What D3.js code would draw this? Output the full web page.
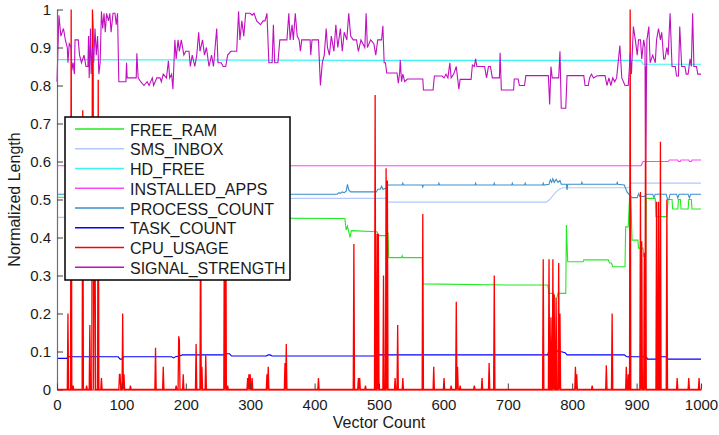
<!DOCTYPE html>
<html lang="en">
<head>
  <title>Normalized Length</title>
  <script src="https://d3js.org/d3.v7.min.js"></script>
  <style>
    body { margin: 0; background: #fff; }
    text { font-family: "Liberation Sans", Arial, Helvetica, sans-serif; fill: #1a1a1a; }
  </style>
</head>
<body>
  <div id="my_dataviz"></div>
  <script>
    // values, [vector count, normalized length]
    const freeRam = [[0,0.506],[150,0.506],[152,0.452],[447,0.450],[449,0.42],[451,0.43],[453,0.415],[455,0.40],[457,0.418],[497,0.415],[499,0.405],[512,0.405],[514,0.41],[515,0.347],[535,0.347],[536,0.352],[537,0.347],[567,0.347],[568,0.278],[700,0.275],[762,0.275],[764,0.253],[771,0.253],[773,0.24],[776,0.24],[778,0.253],[790,0.253],[791,0.433],[793,0.336],[817,0.336],[818,0.341],[856,0.341],[858,0.333],[861,0.333],[863,0.323],[882,0.323],[883,0.428],[887,0.428],[889,0.503],[891,0.503],[893,0.393],[902,0.393],[903,0.372],[910,0.372],[911,0.35],[914,0.35],[915,0.503],[929,0.503],[930,0.455],[947,0.455],[949,0.5],[955,0.5],[956,0.475],[964,0.475],[965,0.5],[968,0.5],[969,0.475],[980,0.475],[981,0.5],[985,0.5],[986,0.475],[1000,0.475]];

    const smsInbox = [[0,0.453],[150,0.453],[152,0.503],[512,0.503],[513,0.493],[760,0.493],[765,0.5],[770,0.51],[775,0.52],[780,0.527],[785,0.531],[889,0.531],[891,0.543],[1000,0.543]];

    const hdFree = [[0,0.868],[500,0.866],[907,0.866],[910,0.856],[1000,0.856]];

    const installedApps = [[0,0.589],[907,0.589],[910,0.6],[949,0.6],[951,0.604],[964,0.604],[965,0.6],[968,0.6],[969,0.604],[981,0.604],[982,0.6],[985,0.6],[986,0.604],[1000,0.604]];

    const processCount = [[0,0.514],[435,0.514],[438,0.518],[440,0.516],[443,0.52],[446,0.518],[449,0.522],[451,0.54],[453,0.525],[456,0.52],[496,0.52],[498,0.527],[502,0.527],[504,0.535],[506,0.527],[511,0.53],[513,0.538],[536,0.538],[537,0.543],[538,0.538],[567,0.538],[568,0.533],[569,0.538],[592,0.538],[593,0.543],[594,0.538],[649,0.538],[650,0.543],[651,0.538],[678,0.538],[679,0.543],[680,0.538],[706,0.538],[707,0.543],[708,0.538],[726,0.538],[727,0.543],[728,0.538],[754,0.538],[755,0.543],[756,0.538],[764,0.54],[766,0.552],[768,0.545],[770,0.555],[772,0.545],[775,0.553],[778,0.545],[781,0.55],[783,0.54],[791,0.54],[792,0.525],[793,0.54],[814,0.54],[815,0.545],[816,0.54],[869,0.54],[870,0.545],[871,0.54],[881,0.538],[885,0.52],[890,0.51],[893,0.505],[901,0.505],[903,0.515],[905,0.508],[912,0.508],[916,0.514],[925,0.514],[927,0.505],[929,0.514],[946,0.514],[948,0.5],[950,0.5],[952,0.514],[962,0.514],[964,0.504],[966,0.514],[980,0.514],[982,0.504],[984,0.514],[1000,0.514]];

    const taskCount = [[0,0.082],[15,0.082],[17,0.086],[95,0.086],[98,0.08],[101,0.08],[104,0.086],[178,0.086],[181,0.083],[184,0.086],[190,0.088],[195,0.091],[260,0.091],[263,0.094],[268,0.094],[271,0.088],[325,0.088],[328,0.091],[331,0.091],[334,0.088],[496,0.088],[498,0.091],[510,0.091],[512,0.095],[514,0.091],[762,0.091],[764,0.104],[768,0.104],[770,0.099],[773,0.104],[776,0.1],[780,0.104],[782,0.1],[789,0.097],[792,0.091],[881,0.091],[884,0.087],[888,0.086],[890,0.089],[892,0.086],[915,0.086],[917,0.08],[931,0.08],[933,0.086],[946,0.086],[948,0.08],[1000,0.08]];

    // CPU_USAGE is zero except for these spikes: [vector count, height]
    const cpuSpikes = [[17,0.20],[22,1.0],[25,0.01],[40,0.735],[46,0.01],[51,0.17],[55,1.0],[56,0.95],[58,0.5],[59,0.45],[64,0.815],[69,0.03],[97,0.04],[98,0.04],[102,0.2],[104,0.04],[114,0.01],[153,0.11],[165,0.06],[185,0.01],[189,0.14],[190,0.13],[196,0.04],[216,0.12],[223,0.5],[225,0.06],[231,0.09],[260,0.55],[262,0.6],[265,0.01],[296,0.03],[298,0.04],[300,0.04],[303,0.03],[326,0.04],[328,0.06],[354,0.07],[356,0.12],[406,0.03],[461,0.383],[468,0.03],[470,0.03],[479,0.01],[494,0.775],[497,0.41],[499,0.41],[507,0.3],[511,0.582],[513,0.55],[525,0.03],[529,0.17],[537,0.03],[568,0.462],[585,0.06],[601,0.03],[612,0.01],[620,0.231],[622,0.06],[626,0.01],[648,0.01],[660,0.03],[671,0.07],[679,0.30],[755,0.343],[764,0.343],[767,0.19],[770,0.343],[772,0.25],[775,0.24],[779,0.333],[781,0.2],[805,0.06],[807,0.04],[831,0.01],[853,0.064],[862,0.20],[884,0.06],[887,0.04],[890,1.0],[906,0.52],[908,0.39],[912,0.36],[914,0.85],[931,0.494],[934,0.494],[937,0.652],[947,0.5],[963,0.03],[981,0.03],[997,0.03]];

    const signalStrength = [[0,0.81],[3,0.985],[6,0.93],[10,0.95],[13,0.92],[16,0.9],[17,0.86],[19,0.91],[22,0.9],[23,0.84],[25,0.86],[27,0.83],[28,0.92],[33,0.92],[35,0.88],[38,0.86],[42,0.88],[45,0.85],[48,0.85],[49,0.93],[50,0.82],[52,0.95],[53,0.83],[55,0.9],[57,0.86],[59,0.95],[61,0.88],[63,0.93],[65,0.83],[67,0.86],[69,0.995],[71,0.95],[73,0.99],[75,0.94],[77,0.99],[80,0.97],[82,0.99],[84,0.94],[87,0.99],[90,0.99],[92,0.96],[94,0.99],[96,0.81],[107,0.81],[108,0.86],[109,0.82],[123,0.82],[124,0.885],[126,0.82],[130,0.81],[135,0.8],[140,0.81],[143,0.8],[148,0.82],[150,0.8],[155,0.82],[160,0.82],[162,0.81],[165,0.83],[170,0.82],[173,0.865],[175,0.82],[178,0.83],[180,0.79],[183,0.92],[185,0.87],[188,0.92],[190,0.89],[193,0.92],[197,0.88],[200,0.89],[205,0.89],[207,0.85],[210,0.88],[214,0.85],[217,0.88],[220,0.94],[222,0.89],[226,0.92],[229,0.88],[232,0.9],[236,0.85],[240,0.88],[243,0.85],[248,0.95],[250,0.86],[255,0.86],[258,0.85],[262,0.85],[265,0.88],[270,0.89],[279,0.89],[282,0.995],[284,0.92],[287,0.97],[290,0.93],[293,0.99],[300,0.99],[303,0.985],[306,0.99],[310,0.97],[316,0.96],[320,0.97],[323,0.97],[326,0.99],[329,0.86],[334,0.86],[336,0.96],[338,0.86],[343,0.86],[346,0.92],[357,0.92],[360,0.99],[362,0.92],[365,0.96],[367,0.92],[370,0.99],[373,0.93],[376,0.92],[378,0.89],[380,0.92],[393,0.92],[394,0.88],[396,0.92],[406,0.92],[409,0.80],[412,0.86],[415,0.88],[418,0.95],[420,0.9],[423,0.88],[426,0.93],[430,0.89],[433,0.96],[436,0.9],[440,0.95],[443,0.89],[446,0.94],[450,0.92],[453,0.99],[456,0.93],[460,0.92],[465,0.92],[468,0.89],[472,0.92],[478,0.9],[480,0.99],[482,0.9],[487,0.92],[492,0.91],[495,0.88],[498,0.92],[504,0.92],[506,0.957],[508,0.86],[510,0.86],[512,0.833],[528,0.833],[530,0.806],[532,0.833],[533,0.867],[535,0.81],[537,0.83],[540,0.81],[544,0.817],[568,0.817],[569,0.788],[584,0.788],[586,0.825],[598,0.825],[601,0.82],[604,0.83],[607,0.82],[610,0.86],[612,0.82],[616,0.83],[620,0.85],[622,0.82],[624,0.79],[626,0.816],[643,0.816],[645,0.854],[648,0.85],[650,0.87],[652,0.85],[656,0.85],[660,0.85],[664,0.85],[667,0.82],[670,0.85],[673,0.85],[676,0.82],[687,0.82],[688,0.886],[690,0.788],[709,0.788],[710,0.817],[716,0.817],[718,0.8],[726,0.8],[728,0.826],[763,0.826],[765,0.75],[767,0.85],[769,0.82],[779,0.82],[781,0.89],[783,0.74],[790,0.74],[792,0.826],[818,0.826],[820,0.8],[825,0.8],[827,0.82],[830,0.83],[833,0.82],[838,0.825],[843,0.826],[851,0.826],[854,0.8],[857,0.82],[860,0.8],[863,0.82],[866,0.81],[869,0.82],[874,0.905],[877,0.82],[882,0.8],[887,0.8],[889,0.85],[890,0.885],[892,0.83],[895,0.955],[898,0.92],[901,0.88],[903,0.92],[906,0.92],[908,0.87],[911,0.92],[913,0.9],[914,0.596],[916,0.92],[919,0.955],[921,0.86],[925,0.88],[929,0.86],[931,0.92],[934,0.95],[937,0.92],[939,0.94],[942,0.87],[944,0.87],[947,0.9],[949,0.88],[952,0.99],[955,0.85],[960,0.85],[962,0.825],[965,0.825],[967,0.955],[970,0.85],[975,0.85],[977,0.83],[980,0.83],[983,0.87],[985,0.85],[987,0.99],[989,0.85],[993,0.85],[995,0.83],[1000,0.83]];

    const seriesNames = ["FREE_RAM", "SMS_INBOX", "HD_FREE", "INSTALLED_APPS", "PROCESS_COUNT", "TASK_COUNT", "CPU_USAGE", "SIGNAL_STRENGTH"];
    const seriesColors = ["#22ea22", "#b4c8ff", "#3ff2f2", "#ff44ff", "#3a8fcc", "#0000ff", "#ff0000", "#c010c0"];

    const xTicks = [0, 100, 200, 300, 400, 500, 600, 700, 800, 900, 1000];
    const xTickLabels = ["0", "100", "200", "300", "400", "500", "600", "700", "800", "900", "1000"];
    const yTicks = [0, 0.1, 0.2, 0.3, 0.4, 0.5, 0.6, 0.7, 0.8, 0.9, 1];
    const yTickLabels = ["0", "0.1", "0.2", "0.3", "0.4", "0.5", "0.6", "0.7", "0.8", "0.9", "1"];

    // cpu series: one sample per vector, zero between the spikes
    const cpuUsage = d3.range(0, 1001).map(i => [i, 0]);
    cpuSpikes.forEach(s => { cpuUsage[s[0]][1] = s[1]; });

    const allSeries = [freeRam, smsInbox, hdFree, installedApps, processCount, taskCount, cpuUsage, signalStrength];

    // set the dimensions and margins of the graph
    var margin = {top: 9.5, right: 18, bottom: 45.5, left: 57},
        width = 719 - margin.left - margin.right,
        height = 435 - margin.top - margin.bottom;

    const svg = d3.select("#my_dataviz")
      .append("svg")
        .attr("width", 719)
        .attr("height", 435)
      .append("g")
        .attr("transform", `translate(${margin.left}, ${margin.top})`);

    const x = d3.scaleLinear().domain([0, 1000]).range([0, width]);
    const y = d3.scaleLinear().domain([0, 1]).range([height, 0]);

    const line = d3.line()
      .x(d => x(d[0]))
      .y(d => y(d[1]));

    // lines, drawn in legend order
    svg.append("g")
      .selectAll("path")
      .data(allSeries)
      .join("path")
        .attr("d", line)
        .attr("fill", "none")
        .attr("stroke", (d, i) => seriesColors[i])
        .attr("stroke-width", (d, i) => i == 6 ? 1.3 : 1.1);

    // axes, ticks pointing inward
    const yAxis = svg.append("g")
      .call(d3.axisLeft(y).tickValues(yTicks).tickFormat((d, i) => yTickLabels[i])
        .tickSizeInner(-6).tickSizeOuter(0).tickPadding(6));
    const xAxis = svg.append("g")
      .attr("transform", `translate(0, ${height})`)
      .call(d3.axisBottom(x).tickValues(xTicks).tickFormat((d, i) => xTickLabels[i])
        .tickSizeInner(-6).tickSizeOuter(0).tickPadding(10));

    [yAxis, xAxis].forEach(a => {
      a.select(".domain").attr("stroke", "#707070").attr("stroke-width", 1.2);
      a.selectAll(".tick line").attr("stroke", "#404040");
      a.selectAll(".tick text").attr("font-size", 15).attr("fill", "#1a1a1a")
        .attr("font-family", "'Liberation Sans', Arial, sans-serif");
    });
    // the red cpu baseline sits on top of the x axis in the original
    xAxis.select(".domain").attr("stroke", "#ff0000");

    svg.append("text")
      .attr("text-anchor", "middle")
      .attr("x", width / 2)
      .attr("y", height + 38.5)
      .attr("font-size", 16)
      .text("Vector Count");

    svg.append("text")
      .attr("text-anchor", "middle")
      .attr("transform", `translate(-37, ${height / 2}) rotate(-90)`)
      .attr("font-size", 16)
      .text("Normalized Length");

    // legend box
    const legend = svg.append("g")
      .attr("transform", "translate(8, 107.5)");
    legend.append("rect")
      .attr("width", 225)
      .attr("height", 163)
      .attr("fill", "#fff")
      .attr("stroke", "#000")
      .attr("stroke-width", 1.5);

    const rows = legend.selectAll("g.row")
      .data(seriesNames)
      .join("g")
        .attr("class", "row")
        .attr("transform", (d, i) => `translate(0, ${12 + i * 19.75})`);
    rows.append("line")
      .attr("x1", 10).attr("x2", 59)
      .attr("stroke", (d, i) => seriesColors[i])
      .attr("stroke-width", 1.3);
    rows.append("text")
      .attr("x", 65)
      .attr("y", 6.5)
      .attr("font-size", 16)
      .text(d => d);
  </script>
</body>
</html>
